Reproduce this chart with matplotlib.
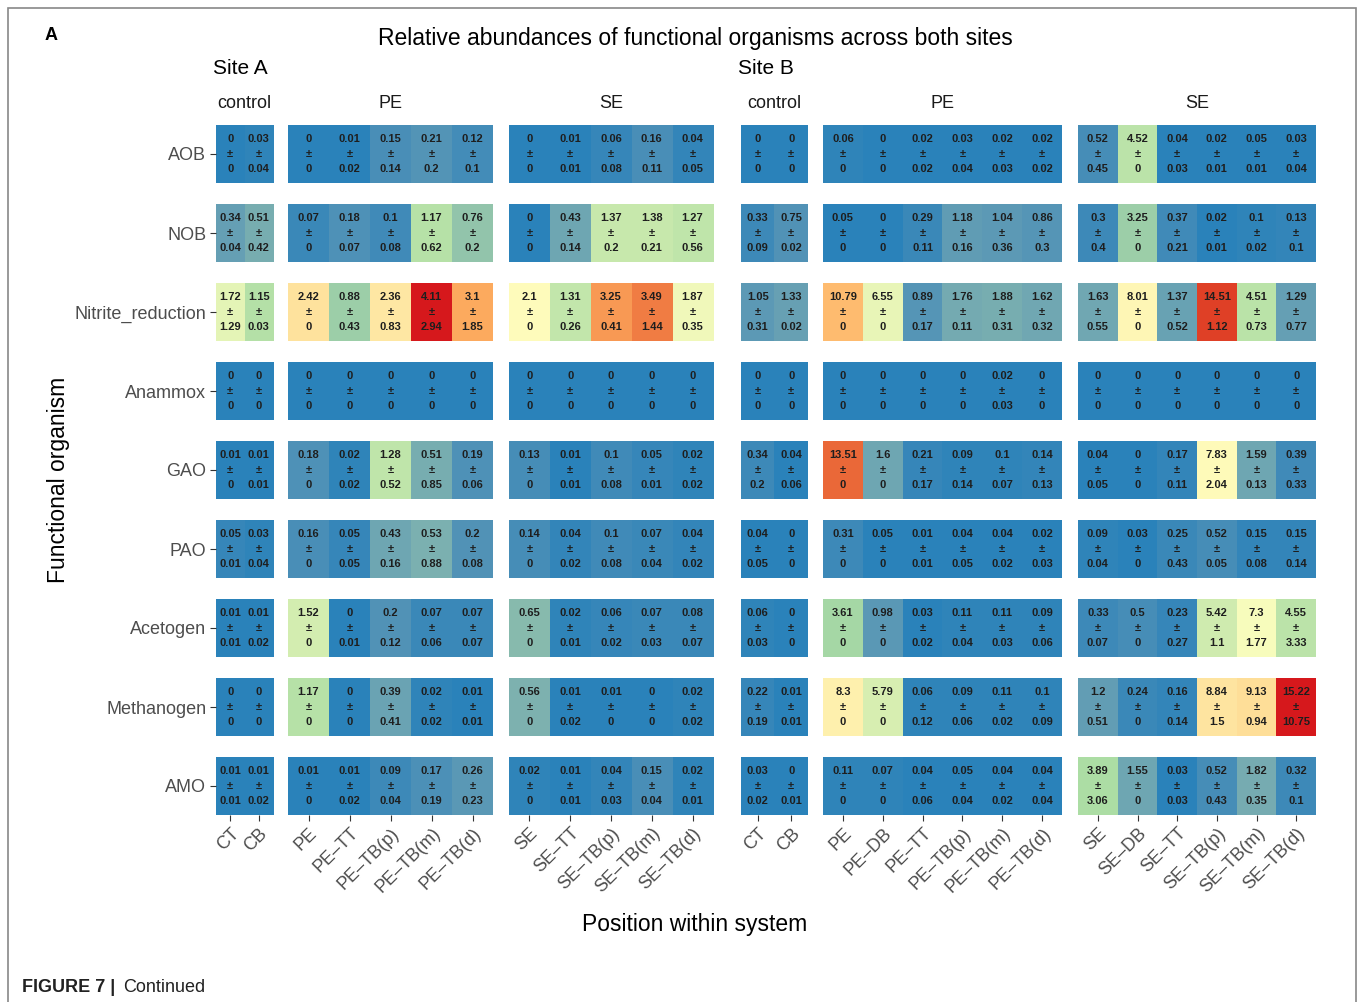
import numpy as np
import matplotlib
matplotlib.use('Agg')
import matplotlib.pyplot as plt
from matplotlib.colors import ListedColormap, Normalize, to_rgb
from matplotlib.patches import Rectangle

plt.rcParams['font.family'] = ['Liberation Sans', 'DejaVu Sans']

organisms = ['AOB', 'NOB', 'Nitrite_reduction', 'Anammox', 'GAO', 'PAO',
             'Acetogen', 'Methanogen', 'AMO']

# ---- Site A ----
a_ctrl_cols = ['CT', 'CB']
a_ctrl_mean = [[0, 0.03], [0.34, 0.51], [1.72, 1.15], [0, 0], [0.01, 0.01],
               [0.05, 0.03], [0.01, 0.01], [0, 0], [0.01, 0.01]]
a_ctrl_sd = [[0, 0.04], [0.04, 0.42], [1.29, 0.03], [0, 0], [0, 0.01],
             [0.01, 0.04], [0.01, 0.02], [0, 0], [0.01, 0.02]]

a_pe_cols = ['PE', 'PE–TT', 'PE–TB(p)', 'PE–TB(m)', 'PE–TB(d)']
a_pe_mean = [[0, 0.01, 0.15, 0.21, 0.12],
             [0.07, 0.18, 0.1, 1.17, 0.76],
             [2.42, 0.88, 2.36, 4.11, 3.1],
             [0, 0, 0, 0, 0],
             [0.18, 0.02, 1.28, 0.51, 0.19],
             [0.16, 0.05, 0.43, 0.53, 0.2],
             [1.52, 0, 0.2, 0.07, 0.07],
             [1.17, 0, 0.39, 0.02, 0.01],
             [0.01, 0.01, 0.09, 0.17, 0.26]]
a_pe_sd = [[0, 0.02, 0.14, 0.2, 0.1],
           [0, 0.07, 0.08, 0.62, 0.2],
           [0, 0.43, 0.83, 2.94, 1.85],
           [0, 0, 0, 0, 0],
           [0, 0.02, 0.52, 0.85, 0.06],
           [0, 0.05, 0.16, 0.88, 0.08],
           [0, 0.01, 0.12, 0.06, 0.07],
           [0, 0, 0.41, 0.02, 0.01],
           [0, 0.02, 0.04, 0.19, 0.23]]

a_se_cols = ['SE', 'SE–TT', 'SE–TB(p)', 'SE–TB(m)', 'SE–TB(d)']
a_se_mean = [[0, 0.01, 0.06, 0.16, 0.04],
             [0, 0.43, 1.37, 1.38, 1.27],
             [2.1, 1.31, 3.25, 3.49, 1.87],
             [0, 0, 0, 0, 0],
             [0.13, 0.01, 0.1, 0.05, 0.02],
             [0.14, 0.04, 0.1, 0.07, 0.04],
             [0.65, 0.02, 0.06, 0.07, 0.08],
             [0.56, 0.01, 0.01, 0, 0.02],
             [0.02, 0.01, 0.04, 0.15, 0.02]]
a_se_sd = [[0, 0.01, 0.08, 0.11, 0.05],
           [0, 0.14, 0.2, 0.21, 0.56],
           [0, 0.26, 0.41, 1.44, 0.35],
           [0, 0, 0, 0, 0],
           [0, 0.01, 0.08, 0.01, 0.02],
           [0, 0.02, 0.08, 0.04, 0.02],
           [0, 0.01, 0.02, 0.03, 0.07],
           [0, 0.02, 0, 0, 0.02],
           [0, 0.01, 0.03, 0.04, 0.01]]

# ---- Site B ----
b_ctrl_cols = ['CT', 'CB']
b_ctrl_mean = [[0, 0], [0.33, 0.75], [1.05, 1.33], [0, 0], [0.34, 0.04],
               [0.04, 0], [0.06, 0], [0.22, 0.01], [0.03, 0]]
b_ctrl_sd = [[0, 0], [0.09, 0.02], [0.31, 0.02], [0, 0], [0.2, 0.06],
             [0.05, 0], [0.03, 0], [0.19, 0.01], [0.02, 0.01]]

b_pe_cols = ['PE', 'PE–DB', 'PE–TT', 'PE–TB(p)', 'PE–TB(m)', 'PE–TB(d)']
b_pe_mean = [[0.06, 0, 0.02, 0.03, 0.02, 0.02],
             [0.05, 0, 0.29, 1.18, 1.04, 0.86],
             [10.79, 6.55, 0.89, 1.76, 1.88, 1.62],
             [0, 0, 0, 0, 0.02, 0],
             [13.51, 1.6, 0.21, 0.09, 0.1, 0.14],
             [0.31, 0.05, 0.01, 0.04, 0.04, 0.02],
             [3.61, 0.98, 0.03, 0.11, 0.11, 0.09],
             [8.3, 5.79, 0.06, 0.09, 0.11, 0.1],
             [0.11, 0.07, 0.04, 0.05, 0.04, 0.04]]
b_pe_sd = [[0, 0, 0.02, 0.04, 0.03, 0.02],
           [0, 0, 0.11, 0.16, 0.36, 0.3],
           [0, 0, 0.17, 0.11, 0.31, 0.32],
           [0, 0, 0, 0, 0.03, 0],
           [0, 0, 0.17, 0.14, 0.07, 0.13],
           [0, 0, 0.01, 0.05, 0.02, 0.03],
           [0, 0, 0.02, 0.04, 0.03, 0.06],
           [0, 0, 0.12, 0.06, 0.02, 0.09],
           [0, 0, 0.06, 0.04, 0.02, 0.04]]

b_se_cols = ['SE', 'SE–DB', 'SE–TT', 'SE–TB(p)', 'SE–TB(m)', 'SE–TB(d)']
b_se_mean = [[0.52, 4.52, 0.04, 0.02, 0.05, 0.03],
             [0.3, 3.25, 0.37, 0.02, 0.1, 0.13],
             [1.63, 8.01, 1.37, 14.51, 4.51, 1.29],
             [0, 0, 0, 0, 0, 0],
             [0.04, 0, 0.17, 7.83, 1.59, 0.39],
             [0.09, 0.03, 0.25, 0.52, 0.15, 0.15],
             [0.33, 0.5, 0.23, 5.42, 7.3, 4.55],
             [1.2, 0.24, 0.16, 8.84, 9.13, 15.22],
             [3.89, 1.55, 0.03, 0.52, 1.82, 0.32]]
b_se_sd = [[0.45, 0, 0.03, 0.01, 0.01, 0.04],
           [0.4, 0, 0.21, 0.01, 0.02, 0.1],
           [0.55, 0, 0.52, 1.12, 0.73, 0.77],
           [0, 0, 0, 0, 0, 0],
           [0.05, 0, 0.11, 2.04, 0.13, 0.33],
           [0.04, 0, 0.43, 0.05, 0.08, 0.14],
           [0.07, 0, 0.27, 1.1, 1.77, 3.33],
           [0.51, 0, 0.14, 1.5, 0.94, 10.75],
           [3.06, 0, 0.03, 0.43, 0.35, 0.1]]

palette = ['#2b83ba', '#abdda4', '#ffffbf', '#fdae61', '#d7191c']

# gradient interpolated in Lab space, like ggplot's gradientn
M = np.array([[0.4124, 0.3576, 0.1805],
              [0.2126, 0.7152, 0.0722],
              [0.0193, 0.1192, 0.9505]])
white = np.array([0.95047, 1.0, 1.08883])


def to_lab(c):
    c = np.array(to_rgb(c))
    c = np.where(c > 0.04045, ((c + 0.055) / 1.055) ** 2.4, c / 12.92)
    xyz = M @ c / white
    f = np.where(xyz > 0.008856, np.cbrt(xyz), 7.787 * xyz + 16 / 116)
    return np.array([116 * f[1] - 16, 500 * (f[0] - f[1]), 200 * (f[1] - f[2])])


def from_lab(lab):
    fy = (lab[0] + 16) / 116
    f = np.array([fy + lab[1] / 500, fy, fy - lab[2] / 200])
    xyz = np.where(f ** 3 > 0.008856, f ** 3, (f - 16 / 116) / 7.787) * white
    rgb = np.linalg.solve(M, xyz)
    rgb = np.clip(rgb, 0, 1)
    rgb = np.where(rgb > 0.0031308, 1.055 * rgb ** (1 / 2.4) - 0.055, 12.92 * rgb)
    return np.clip(rgb, 0, 1)


labs = np.array([to_lab(c) for c in palette])
stops = np.linspace(0, 1, len(palette))
grid = np.linspace(0, 1, 256)
lab_grid = np.stack([np.interp(grid, stops, labs[:, d]) for d in range(3)], axis=1)
cmap = ListedColormap([from_lab(l) for l in lab_grid])

W, H = 1357, 1002
fig = plt.figure(figsize=(W / 100, H / 100), dpi=100)

# panel edges in pixels
panels = [
    ('A', 'control', a_ctrl_cols, a_ctrl_mean, a_ctrl_sd, 216, 273),
    ('A', 'PE', a_pe_cols, a_pe_mean, a_pe_sd, 288, 493),
    ('A', 'SE', a_se_cols, a_se_mean, a_se_sd, 509, 713),
    ('B', 'control', b_ctrl_cols, b_ctrl_mean, b_ctrl_sd, 741, 808),
    ('B', 'PE', b_pe_cols, b_pe_mean, b_pe_sd, 823, 1062),
    ('B', 'SE', b_se_cols, b_se_mean, b_se_sd, 1078, 1316),
]

site_max = {}
for site, _, _, m, _, _, _ in panels:
    site_max[site] = max(site_max.get(site, 0), np.max(m))

row_top0, row_pitch, row_h = 125, 79, 58


def fmt(v):
    return f'{v:g}'


for k, (site, grp, cols, mean, sd, x0, x1) in enumerate(panels):
    norm = Normalize(vmin=0, vmax=site_max[site])
    mean = np.array(mean)
    sd = np.array(sd)
    for i, org in enumerate(organisms):
        top = row_top0 + i * row_pitch
        ax = fig.add_axes([x0 / W, 1 - (top + row_h) / H, (x1 - x0) / W, row_h / H])
        ax.imshow(mean[i][None, :], cmap=cmap, norm=norm, aspect='auto',
                  interpolation='nearest')
        for j in range(len(cols)):
            ax.text(j, 0, fmt(mean[i, j]) + '\n±\n' + fmt(sd[i, j]),
                    ha='center', va='center', fontsize=8, fontweight='bold',
                    color='#1e1e1e', linespacing=1.65)
        for s in ax.spines.values():
            s.set_visible(False)
        ax.tick_params(length=4, width=0.8, color='#333333',
                       labelcolor='#4d4d4d', labelsize=13, pad=3)
        if k == 0:
            ax.set_yticks([0])
            ax.set_yticklabels([org])
        else:
            ax.set_yticks([])
        if i == len(organisms) - 1:
            ax.set_xticks(range(len(cols)))
            ax.set_xticklabels(cols, rotation=45, ha='right', va='top',
                               rotation_mode='anchor')
        else:
            ax.set_xticks([])
    fig.text((x0 + x1) / 2 / W, 1 - 104 / H, grp, ha='center', va='center',
             fontsize=13, color='#1a1a1a')

fig.text(45 / W, 1 - 36 / H, 'A', fontsize=13, fontweight='bold', va='center')
fig.text(695 / W, 1 - 38 / H,
         'Relative abundances of functional organisms across both sites',
         ha='center', va='center', fontsize=16.5)
fig.text(213 / W, 1 - 68 / H, 'Site A', ha='left', va='center', fontsize=15)
fig.text(738 / W, 1 - 68 / H, 'Site B', ha='left', va='center', fontsize=15)
fig.text(58 / W, 1 - 480 / H, 'Functional organism', rotation=90,
         ha='center', va='center', fontsize=16.5)
fig.text(695 / W, 1 - 925 / H, 'Position within system', ha='center',
         va='center', fontsize=16.5)
fig.text(22 / W, 1 - 987 / H, 'FIGURE 7 |', fontsize=13, fontweight='bold',
         va='center', color='#222222')
fig.text(123 / W, 1 - 987 / H, 'Continued', fontsize=13, va='center',
         color='#222222')

fig.patches.append(Rectangle((8 / W, -0.05), 1348 / W, 1.05 - 8 / H,
                             transform=fig.transFigure, fill=False,
                             edgecolor='#888888', linewidth=1.2))

fig.savefig('out.png', dpi=100)
